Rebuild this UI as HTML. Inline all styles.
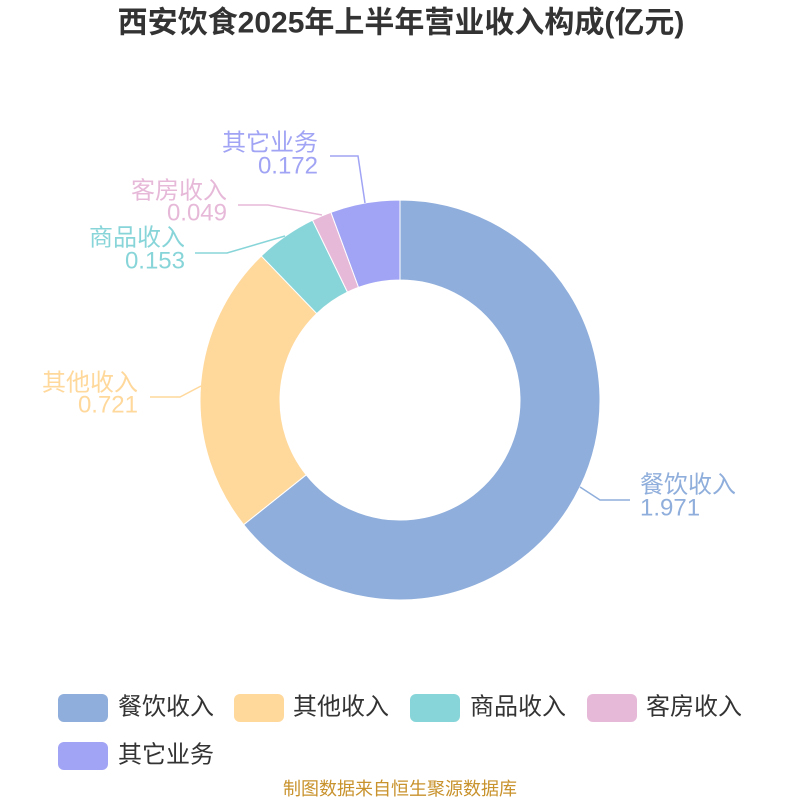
<!DOCTYPE html>
<html>
<head>
<meta charset="utf-8">
<style>
  html, body { margin: 0; padding: 0; background: #ffffff; }
  body { width: 800px; height: 800px; overflow: hidden; }
  svg { display: block; }
  text { font-family: "Liberation Sans", "Noto Sans CJK SC", sans-serif; }
</style>
</head>
<body>
<svg width="800" height="800" viewBox="0 0 800 800" xmlns="http://www.w3.org/2000/svg">
  <rect width="800" height="800" fill="#ffffff"/>

  <!-- Title -->
  <text x="401" y="23" text-anchor="middle" dominant-baseline="central" font-size="30" font-weight="bold" fill="#333333">西安饮食2025年上半年营业收入构成(亿元)</text>

  <!-- Donut slices -->
  <g stroke="#ffffff" stroke-width="1" stroke-linejoin="round">
    <path d="M400,200 A200,200 0 1 1 243.64,524.70 L306.18,474.82 A120,120 0 1 0 400,280 Z" fill="#8FAEDB"/>
    <path d="M243.64,524.70 A200,200 0 0 1 261.26,255.96 L316.76,313.58 A120,120 0 0 0 306.18,474.82 Z" fill="#FFD89C"/>
    <path d="M261.26,255.96 A200,200 0 0 1 312.48,220.16 L347.49,292.10 A120,120 0 0 0 316.76,313.58 Z" fill="#88D5D9"/>
    <path d="M312.48,220.16 A200,200 0 0 1 330.94,212.30 L358.56,287.38 A120,120 0 0 0 347.49,292.10 Z" fill="#E7B9D9"/>
    <path d="M330.94,212.30 A200,200 0 0 1 400,200 L400,280 A120,120 0 0 0 358.56,287.38 Z" fill="#A1A4F4"/>
  </g>

  <!-- Label lines -->
  <g fill="none" stroke-width="1.5">
    <polyline points="580,487 600,500 630,500" stroke="#8FAEDB"/>
    <polyline points="201,386 180,397 150,397" stroke="#FFD89C"/>
    <polyline points="285,236 227,253 195,253" stroke="#88D5D9"/>
    <polyline points="322,215 268,205 238,205" stroke="#E7B9D9"/>
    <polyline points="365,203 358,156 330,156" stroke="#A1A4F4"/>
  </g>

  <!-- Labels -->
  <g font-size="24" dominant-baseline="central">
    <text x="640" y="485" fill="#8FAEDB">餐饮收入</text>
    <text x="640" y="508" fill="#8FAEDB">1.971</text>

    <text x="138" y="383" text-anchor="end" fill="#FFD89C">其他收入</text>
    <text x="138" y="405" text-anchor="end" fill="#FFD89C">0.721</text>

    <text x="185" y="238" text-anchor="end" fill="#88D5D9">商品收入</text>
    <text x="185" y="261" text-anchor="end" fill="#88D5D9">0.153</text>

    <text x="227" y="191" text-anchor="end" fill="#E7B9D9">客房收入</text>
    <text x="227" y="213" text-anchor="end" fill="#E7B9D9">0.049</text>

    <text x="318" y="143" text-anchor="end" fill="#A1A4F4">其它业务</text>
    <text x="318" y="166" text-anchor="end" fill="#A1A4F4">0.172</text>
  </g>

  <!-- Legend -->
  <g>
    <rect x="58" y="694" width="50" height="28" rx="6" fill="#8FAEDB"/>
    <rect x="234" y="694" width="50" height="28" rx="6" fill="#FFD89C"/>
    <rect x="410" y="694" width="50" height="28" rx="6" fill="#88D5D9"/>
    <rect x="587" y="694" width="50" height="28" rx="6" fill="#E7B9D9"/>
    <rect x="58" y="742" width="50" height="28" rx="6" fill="#A1A4F4"/>
  </g>
  <g font-size="24" fill="#333333" dominant-baseline="central">
    <text x="118" y="707">餐饮收入</text>
    <text x="293" y="707">其他收入</text>
    <text x="470" y="707">商品收入</text>
    <text x="646" y="707">客房收入</text>
    <text x="118" y="755">其它业务</text>
  </g>

  <!-- Footer -->
  <text x="400" y="789" text-anchor="middle" dominant-baseline="central" font-size="18" fill="#C8922C">制图数据来自恒生聚源数据库</text>
</svg>
</body>
</html>
